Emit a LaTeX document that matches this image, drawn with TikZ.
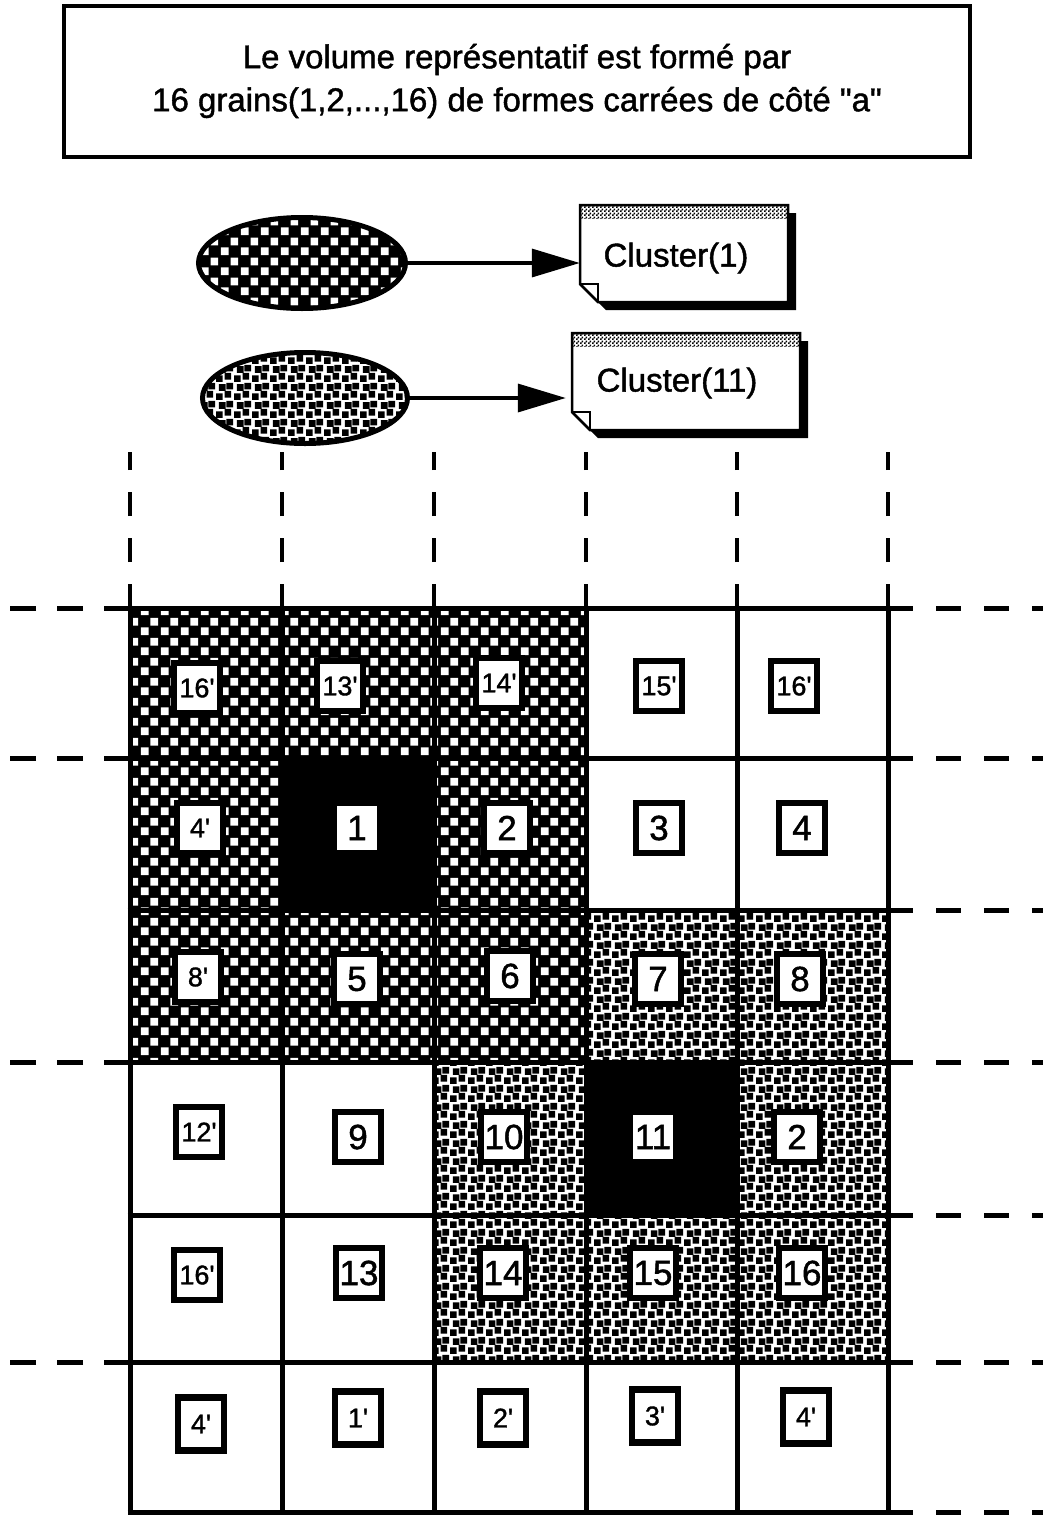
\documentclass[tikz,border=0pt]{standalone}
\usepackage{fontspec}
\setmainfont{Liberation Sans}[Ligatures=TeXOff]
\newfontfamily\heavy{Liberation Sans}[Ligatures=TeXOff, FakeBold=1.3]
\usetikzlibrary{patterns,arrows.meta,shapes.geometric,calc}

\pgfdeclarepatternformonly{checkw}{\pgfpoint{0pt}{0pt}}{\pgfpoint{20pt}{20pt}}{\pgfpoint{20pt}{20pt}}{%
  \pgfpathrectangle{\pgfpoint{1pt}{1pt}}{\pgfpoint{8pt}{8pt}}%
  \pgfpathrectangle{\pgfpoint{11pt}{11pt}}{\pgfpoint{8pt}{8pt}}%
  \pgfusepath{fill}}
\pgfdeclarepatternformonly{dotsb}{\pgfpoint{0pt}{0pt}}{\pgfpoint{18pt}{18pt}}{\pgfpoint{18pt}{18pt}}{%
  \pgfpathrectangle{\pgfpoint{0pt}{0pt}}{\pgfpoint{7pt}{7pt}}%
  \pgfpathrectangle{\pgfpoint{9pt}{2.5pt}}{\pgfpoint{7pt}{7pt}}%
  \pgfpathrectangle{\pgfpoint{3pt}{9.5pt}}{\pgfpoint{7pt}{7pt}}%
  \pgfpathrectangle{\pgfpoint{11pt}{11pt}}{\pgfpoint{7pt}{7pt}}%
  \pgfusepath{fill}}
\pgfdeclarepatternformonly{finedots}{\pgfpoint{0pt}{0pt}}{\pgfpoint{4pt}{4pt}}{\pgfpoint{4pt}{4pt}}{%
  \pgfpathrectangle{\pgfpoint{0pt}{0pt}}{\pgfpoint{2pt}{2pt}}%
  \pgfpathrectangle{\pgfpoint{2pt}{2pt}}{\pgfpoint{2pt}{2pt}}%
  \pgfusepath{fill}}

\tikzset{
  gridline/.style={line width=5pt},
  dshline/.style={line width=5pt, dash pattern=on 25pt off 23pt},
  lblbox/.style={draw, line width=6.5pt, fill=white, inner sep=0pt, minimum width=46pt, minimum height=50pt},
  lblm/.style={lblbox, font=\heavy\fontsize{35}{35}\selectfont},
  lblp/.style={lblbox, font=\heavy\fontsize{27}{27}\selectfont},
  notetext/.style={font=\heavy\fontsize{33}{33}\selectfont, inner sep=0pt},
  arr/.style={line width=3.5pt, -{Triangle[length=48pt,width=28pt]}},
}

\newcommand\drawnote[4]{%
  \fill (#1+8,#2+8) -- (#3+8,#2+8) -- (#3+8,#4+8) -- (#1+26,#4+8) -- (#1+8,#4-10) -- cycle;
  \filldraw[fill=white, line width=2.5pt] (#1,#2) -- (#3,#2) -- (#3,#4) -- (#1+18,#4) -- (#1,#4-18) -- cycle;
  \fill[pattern=finedots, pattern color=black] (#1,#2) rectangle (#3,#2+13);
  \draw[line width=2.5pt] (#1,#2) -- (#3,#2);
  \draw[line width=2pt] (#1,#4-18) -- (#1+18,#4-18) -- (#1+18,#4);
}

\begin{document}
\begin{tikzpicture}[x=1pt,y=-1pt]
\useasboundingbox (0,0) rectangle (1043,1516);

% title
\node[draw, line width=4pt, minimum width=906pt, minimum height=151pt, align=center,
      font=\heavy\fontsize{33}{43}\selectfont] (title) at (517,81)
  {Le volume représentatif est formé par\\16 grains(1,2,...,16) de formes carrées de côté "a"};

% legend
\drawnote{580}{205}{788}{302}
\drawnote{572}{333}{800}{430}
\node[minimum width=208pt, minimum height=97pt, inner sep=0pt] (n1) at (684,253.5) {};
\node[minimum width=228pt, minimum height=97pt, inner sep=0pt] (n2) at (686,381.5) {};
\node[notetext] (t1) at (676,258) {Cluster(1)};
\node[notetext] (t2) at (677,383) {Cluster(11)};

\node[ellipse, draw, line width=5pt, minimum width=207pt, minimum height=91pt,
      preaction={fill=black}, pattern=checkw, pattern color=white] (e1) at (302,263) {};
\node[ellipse, draw, line width=5pt, minimum width=205pt, minimum height=91pt,
      preaction={fill=white}, pattern=dotsb, pattern color=black] (e2) at (305,398) {};

\draw[arr] (e1.east) -- (e1.east -| n1.west);
\draw[arr] (e2.east) -- ($(e2.east -| n2.west)+(-6,0)$);

% fills
\fill[black] (130,608) rectangle (586,1062);
\fill[pattern=checkw, pattern color=white] (130,608) rectangle (586,1062);
\fill[pattern=dotsb, pattern color=black] (586,910) rectangle (888,1062);
\fill[pattern=dotsb, pattern color=black] (434,1062) rectangle (888,1362);
\fill[black] (282,758) rectangle (434,910);
\fill[black] (586,1062) rectangle (737,1215);

% grid
\foreach \y in {608,758,910,1062,1215,1362,1512}
  \draw[gridline] (127.5,\y) -- (890.5,\y);
\foreach \x in {130,282,434,586,737,888}
  \draw[gridline] (\x,605.5) -- (\x,1514.5);

% dashed extensions
\foreach \y in {608,758,910,1062,1215,1362,1512}
  \draw[dshline] (888,\y) -- (1043,\y);
\foreach \y in {608,758,1062,1362}
  \draw[dshline, dash pattern=on 26pt off 21pt] (130,\y) -- (0,\y);
\foreach \x in {130,282,434,586,737,888}
  \draw[line width=4.5pt, dash pattern=on 24pt off 22pt] (\x,608) -- (\x,452);

% labels row 0
\node[lblp] (a16p) at (197,688) {16'};
\node[lblp] (a13p) at (340,686) {13'};
\node[lblp] (a14p) at (499,683) {14'};
\node[lblp] (a15p) at (659,686) {15'};
\node[lblp] (b16p) at (794,686) {16'};
% row 1
\node[lblp] (a4p) at (200,828) {4'};
\node[lblm] (c1) at (357,828) {1};
\node[lblm] (c2) at (507,828) {2};
\node[lblm] (c3) at (659,828) {3};
\node[lblm] (c4) at (802,828) {4};
% row 2
\node[lblp] (a8p) at (198,977) {8'};
\node[lblm] (c5) at (357,979) {5};
\node[lblm] (c6) at (510,976) {6};
\node[lblm] (c7) at (658,979) {7};
\node[lblm] (c8) at (800,979) {8};
% row 3
\node[lblp] (a12p) at (199,1132) {12'};
\node[lblm] (c9) at (358,1137) {9};
\node[lblm] (c10) at (504,1137) {10};
\node[lblm] (c11) at (653,1137) {11};
\node[lblm] (c12) at (797,1137) {2};
% row 4
\node[lblp] (c16p) at (197,1275) {16'};
\node[lblm] (c13) at (359,1273) {13};
\node[lblm] (c14) at (503,1273) {14};
\node[lblm] (c15) at (653,1273) {15};
\node[lblm] (c16) at (802,1273) {16};
% row 5
\node[lblp, minimum height=53pt] (b4p) at (201,1424) {4'};
\node[lblp, minimum height=53pt] (b1p) at (358,1418) {1'};
\node[lblp, minimum height=53pt] (b2p) at (503,1418) {2'};
\node[lblp, minimum height=53pt] (b3p) at (655,1416) {3'};
\node[lblp, minimum height=53pt] (c4p) at (806,1417) {4'};
\end{tikzpicture}
\end{document}
